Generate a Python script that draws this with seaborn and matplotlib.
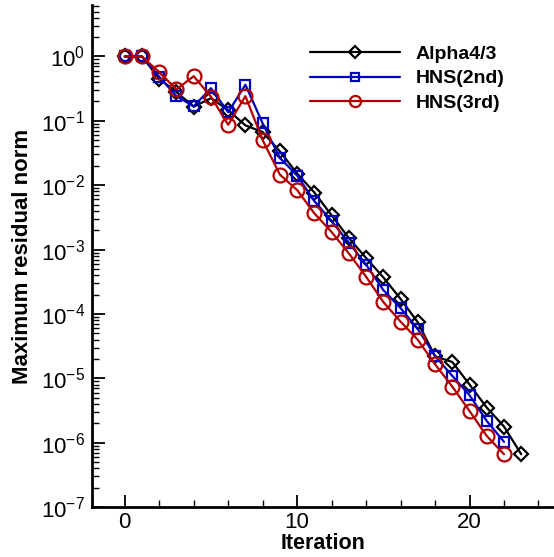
import numpy as np
import pandas as pd
import matplotlib
matplotlib.use('Agg')
import matplotlib.pyplot as plt
import matplotlib.ticker as mticker
import seaborn as sns

# residual histories
it_alpha = list(range(24))
res_alpha = [1.0, 1.0, 0.45, 0.28, 0.166, 0.225, 0.147, 0.085, 0.067, 0.0335,
             0.0152, 0.0077, 0.0034, 0.00151, 7.4e-4, 3.7e-4, 1.71e-4, 7.4e-5,
             2.2e-5, 1.79e-5, 8.0e-6, 3.5e-6, 1.78e-6, 6.6e-7]

it_hns2 = list(range(23))
res_hns2 = [1.0, 1.0, 0.484, 0.242, 0.168, 0.322, 0.136, 0.364, 0.0912, 0.0265,
            0.0141, 0.00566, 0.00277, 0.00128, 5.83e-4, 2.35e-4, 1.23e-4, 5.82e-5,
            2.22e-5, 1.09e-5, 5.45e-6, 2.17e-6, 1.03e-6]

it_hns3 = list(range(23))
res_hns3 = [1.0, 1.0, 0.570, 0.308, 0.494, 0.237, 0.0869, 0.242, 0.0501, 0.0146,
            0.0084, 0.00365, 0.00187, 8.73e-4, 3.79e-4, 1.53e-4, 7.59e-5, 3.96e-5,
            1.65e-5, 7.43e-6, 3.10e-6, 1.27e-6, 6.6e-7]

labels = ['Alpha4/3', 'HNS(2nd)', 'HNS(3rd)']
ytick_vals = [1e-7, 1e-6, 1e-5, 1e-4, 1e-3, 1e-2, 1e-1, 1e0]

df = pd.concat([
    pd.DataFrame({'Iteration': it_alpha, 'res': res_alpha, 'scheme': labels[0]}),
    pd.DataFrame({'Iteration': it_hns2, 'res': res_hns2, 'scheme': labels[1]}),
    pd.DataFrame({'Iteration': it_hns3, 'res': res_hns3, 'scheme': labels[2]}),
])

sns.set_style('ticks', {'axes.edgecolor': 'black', 'text.color': 'black',
                        'axes.labelcolor': 'black', 'xtick.color': 'black',
                        'ytick.color': 'black'})
plt.rcParams['font.family'] = ['Liberation Sans', 'DejaVu Sans']
plt.rcParams['mathtext.fontset'] = 'custom'
plt.rcParams['mathtext.rm'] = 'Liberation Sans'
plt.rcParams['mathtext.it'] = 'Liberation Sans:italic'
plt.rcParams['mathtext.bf'] = 'Liberation Sans:bold'

colors = {'Alpha4/3': 'black', 'HNS(2nd)': '#0000c0', 'HNS(3rd)': '#b40000'}
markers = {'Alpha4/3': 'D', 'HNS(2nd)': 's', 'HNS(3rd)': 'o'}
msizes = {'Alpha4/3': 7.5, 'HNS(2nd)': 7, 'HNS(3rd)': 10}
leg_msizes = {'Alpha4/3': 6.5, 'HNS(2nd)': 5.5, 'HNS(3rd)': 8}

fig = plt.figure(figsize=(5.54, 5.57), dpi=100)
ax = fig.add_axes([92/554, 1 - 507/557, 462/554, 502/557])

for lab in labels:
    sub = df[df['scheme'] == lab]
    sns.lineplot(data=sub, x='Iteration', y='res', ax=ax, color=colors[lab],
                 marker=markers[lab], markersize=msizes[lab], markerfacecolor='none',
                 markeredgecolor=colors[lab], markeredgewidth=1.6, linewidth=1.6,
                 label=lab)

ax.set_yscale('log')
ax.set_xlim(-1.9, 24.9)
ax.set_ylim(1e-7, 10**0.8)

ax.xaxis.set_major_locator(mticker.MultipleLocator(10))
ax.xaxis.set_minor_locator(mticker.MultipleLocator(2))
ax.yaxis.set_major_locator(mticker.FixedLocator(ytick_vals))
ax.yaxis.set_major_formatter(mticker.LogFormatterMathtext())
ax.yaxis.set_minor_locator(mticker.LogLocator(base=10, subs=np.arange(2, 10), numticks=20))
ax.yaxis.set_minor_formatter(mticker.NullFormatter())

ax.tick_params(which='major', direction='in', length=9, width=1.3, labelsize=16,
               color='black', labelcolor='black')
ax.tick_params(which='minor', direction='in', length=5, width=1.0, color='black')
ax.tick_params(axis='y', which='major', pad=5)

for s in ['top', 'right']:
    ax.spines[s].set_visible(False)
for s in ['left', 'bottom']:
    ax.spines[s].set_linewidth(2)
    ax.spines[s].set_color('black')

ax.set_xlabel('Iteration', fontsize=15.5, fontweight='bold', labelpad=0, color='black')
ax.set_ylabel('Maximum residual norm', fontsize=16, fontweight='bold', labelpad=6,
              color='black')

leg = ax.legend(loc='upper right', bbox_to_anchor=(0.93, 0.955), frameon=False,
                prop={'size': 14, 'weight': 'bold'}, handlelength=4.6, labelspacing=0.36,
                handletextpad=0.8)
for h, lab in zip(leg.legend_handles, labels):
    h.set_markersize(leg_msizes[lab])
for t in leg.get_texts():
    t.set_color('black')

fig.savefig('out.png', dpi=100)
